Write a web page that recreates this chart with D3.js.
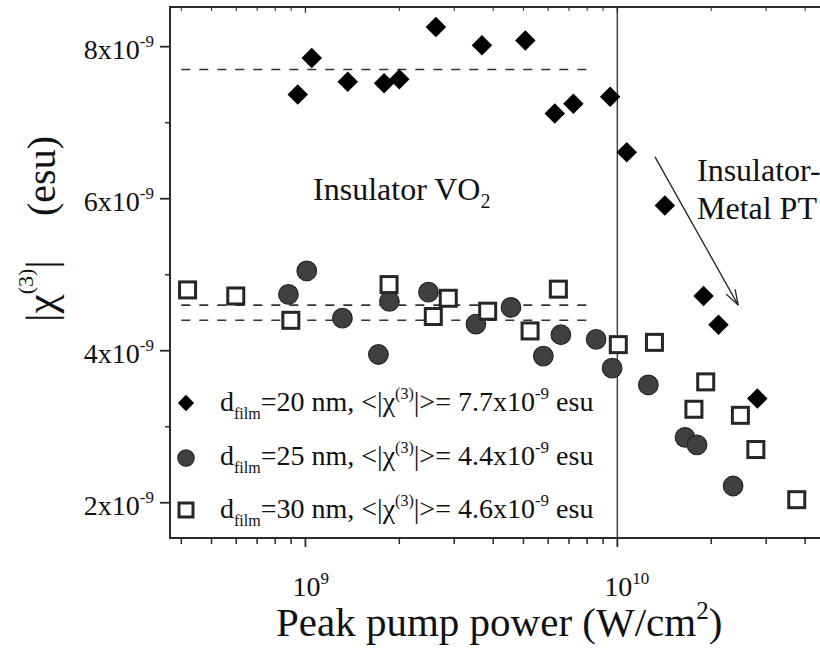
<!DOCTYPE html>
<html><head><meta charset="utf-8">
<script src="https://cdn.jsdelivr.net/npm/d3@7"></script>
<style>
body{margin:0;background:#fff}
text{font-family:"Liberation Serif","Times New Roman",serif;fill:#111}
</style>
</head><body><svg id="c" width="820" height="649"></svg>
<script>
// ---- data (x: peak pump power W/cm^2, y: |chi(3)| in 1e-9 esu) ----
const diamondX = [9.45e8, 1.048e9, 1.367e9, 1.787e9, 2.0e9, 2.62e9, 3.68e9, 5.07e9, 6.30e9, 7.23e9, 9.48e9, 1.072e10, 1.42e10, 1.89e10, 2.11e10, 2.81e10];
const diamondY = [7.37, 7.85, 7.54, 7.52, 7.57, 8.26, 8.02, 8.08, 7.12, 7.25, 7.34, 6.61, 5.91, 4.72, 4.34, 3.37];
const circleX = [8.82e8, 1.01e9, 1.314e9, 1.714e9, 1.859e9, 2.48e9, 3.52e9, 4.56e9, 5.79e9, 6.59e9, 8.55e9, 9.62e9, 1.257e10, 1.648e10, 1.80e10, 2.35e10];
const circleY = [4.74, 5.05, 4.43, 3.95, 4.65, 4.77, 4.35, 4.57, 3.93, 4.21, 4.15, 3.77, 3.55, 2.86, 2.76, 2.22];
const squareX = [4.19e8, 5.98e8, 8.98e8, 1.854e9, 2.57e9, 2.87e9, 3.84e9, 5.25e9, 6.47e9, 1.007e10, 1.315e10, 1.76e10, 1.92e10, 2.48e10, 2.78e10, 3.76e10];
const squareY = [4.80, 4.72, 4.40, 4.87, 4.45, 4.69, 4.52, 4.26, 4.81, 4.08, 4.11, 3.23, 3.59, 3.15, 2.70, 2.04];
const meanValues = [7.7, 4.4, 4.6];
const meanRange = [4.0e8, 8.2e9];
const transitionX = 1e10;
const seriesNames = ["=20 nm, <|χ", "=25 nm, <|χ", "=30 nm, <|χ"];
const seriesMeans = ["7.7", "4.4", "4.6"];
const xMajorTicks = [1e9, 1e10];
const xMajorExp = ["9", "10"];
const xMinorTicks = [4e8,5e8,6e8,7e8,8e8,9e8,2e9,3e9,4e9,5e9,6e9,7e9,8e9,9e9,2e10,3e10,4e10];
const yMajorTicks = [2, 4, 6, 8];
const yMajorLabels = ["2x10", "4x10", "6x10", "8x10"];
const yMinorTicks = [3, 5, 7];
const arrowFrom = [1.32e10, 6.55];
const arrowTo = [2.44e10, 4.60];

const svg = d3.select("#c");
const L = 170, T = 7, R = 822, B = 538;
const x = d3.scaleLog().domain([3.68e8, 4.53e10]).range([L, R]);
const y = d3.scaleLinear().domain([1.536, 8.522]).range([B, T]);
const ax = "#2a2a2a";

// mean dashed lines
svg.selectAll("line.mean").data(meanValues).join("line")
  .attr("x1", x(meanRange[0])).attr("x2", x(meanRange[1]))
  .attr("y1", d => y(d)).attr("y2", d => y(d))
  .attr("stroke", "#333").attr("stroke-width", 1.6).attr("stroke-dasharray", "9,9");

// transition line
svg.append("line").attr("x1", x(transitionX)).attr("x2", x(transitionX))
  .attr("y1", T).attr("y2", B).attr("stroke", "#444").attr("stroke-width", 1.5);

// axes frame
svg.append("line").attr("x1", L).attr("x2", L).attr("y1", T).attr("y2", B+1).attr("stroke", ax).attr("stroke-width", 2);
svg.append("line").attr("x1", L-1).attr("x2", R).attr("y1", B).attr("y2", B).attr("stroke", ax).attr("stroke-width", 2);
svg.append("line").attr("x1", L-1).attr("x2", R).attr("y1", T).attr("y2", T).attr("stroke", ax).attr("stroke-width", 2);

// x ticks
svg.selectAll("line.xmaj").data(xMajorTicks).join("line")
  .attr("x1", d => x(d)).attr("x2", d => x(d)).attr("y1", B).attr("y2", B+9).attr("stroke", ax).attr("stroke-width", 1.8);
svg.selectAll("line.xmin").data(xMinorTicks).join("line")
  .attr("x1", d => x(d)).attr("x2", d => x(d)).attr("y1", B).attr("y2", B+6).attr("stroke", ax).attr("stroke-width", 1.5);
svg.selectAll("line.xmajT").data(xMajorTicks).join("line")
  .attr("x1", d => x(d)).attr("x2", d => x(d)).attr("y1", T).attr("y2", T+6).attr("stroke", ax).attr("stroke-width", 1.2);
svg.selectAll("line.xminT").data(xMinorTicks).join("line")
  .attr("x1", d => x(d)).attr("x2", d => x(d)).attr("y1", T).attr("y2", T+4).attr("stroke", ax).attr("stroke-width", 1);

// y ticks
svg.selectAll("line.ymaj").data(yMajorTicks).join("line")
  .attr("x1", L-10).attr("x2", L).attr("y1", d => y(d)).attr("y2", d => y(d)).attr("stroke", ax).attr("stroke-width", 1.8);
svg.selectAll("line.ymin").data(yMinorTicks).join("line")
  .attr("x1", L-5).attr("x2", L).attr("y1", d => y(d)).attr("y2", d => y(d)).attr("stroke", ax).attr("stroke-width", 1.5);

// x tick labels
xMajorTicks.forEach((v, i) => {
  const t = svg.append("text").attr("x", x(v) - 13).attr("y", 596).attr("font-size", 28);
  t.append("tspan").text("10");
  t.append("tspan").attr("font-size", 17).attr("dy", -12).text(xMajorExp[i]);
});
// y tick labels
yMajorTicks.forEach((v, i) => {
  const t = svg.append("text").attr("x", 154).attr("y", y(v) + 12.5).attr("font-size", 28).attr("text-anchor", "end");
  t.append("tspan").text(yMajorLabels[i]);
  t.append("tspan").attr("font-size", 17).attr("dy", -12).text("-9");
});

// axis titles
const xt = svg.append("text").attr("x", 276).attr("y", 636).attr("font-size", 41);
xt.append("tspan").text("Peak pump power (W/cm");
xt.append("tspan").attr("font-size", 25).attr("dy", -17).text("2");
xt.append("tspan").attr("dy", 17).text(")");

const yg = svg.append("g").attr("transform", "translate(55,0) rotate(-90)");
yg.append("text").attr("x", -176).attr("y", 0).attr("font-size", 40).attr("text-anchor", "middle").text("(esu)");
const yt = yg.append("text").attr("x", -291).attr("y", 0).attr("font-size", 43).attr("text-anchor", "middle");
yt.append("tspan").text("|χ");
yt.append("tspan").attr("font-size", 22).attr("dy", -22).text("(3)");
yt.append("tspan").attr("dy", 22).text("|");

// markers
function drawDiamond(sel, s) {
  sel.attr("d", d3.symbol().type(d3.symbolSquare).size(s*s)()).attr("fill", "#000");
}
svg.selectAll("path.dia").data(diamondX).join("path")
  .attr("transform", (d, i) => `translate(${x(d)},${y(diamondY[i])}) rotate(45)`)
  .call(drawDiamond, 14.5);
svg.selectAll("circle.cir").data(circleX).join("circle")
  .attr("cx", d => x(d)).attr("cy", (d, i) => y(circleY[i])).attr("r", 9.8)
  .attr("fill", "#404040").attr("stroke", "#262626").attr("stroke-width", 1.2);
svg.selectAll("rect.sq").data(squareX).join("rect")
  .attr("x", d => x(d) - 8).attr("y", (d, i) => y(squareY[i]) - 8)
  .attr("width", 16).attr("height", 16)
  .attr("fill", "#fff").attr("stroke", "#262626").attr("stroke-width", 3);

// annotations
const ins = svg.append("text").attr("x", x(1.058e9)).attr("y", y(5.98)).attr("font-size", 32);
ins.append("tspan").text("Insulator VO");
ins.append("tspan").attr("font-size", 20).attr("dy", 8).text("2");
svg.append("text").attr("x", x(1.8e10)).attr("y", y(6.233)).attr("font-size", 32).text("Insulator-");
svg.append("text").attr("x", x(1.8e10)).attr("y", y(5.733)).attr("font-size", 32).text("Metal PT");

// arrow
const ax1 = x(arrowFrom[0]), ay1 = y(arrowFrom[1]), ax2 = x(arrowTo[0]), ay2 = y(arrowTo[1]);
svg.append("line").attr("x1", ax1).attr("y1", ay1).attr("x2", ax2).attr("y2", ay2).attr("stroke", "#222").attr("stroke-width", 1.3);
const ang = Math.atan2(ay2 - ay1, ax2 - ax1);
[0.32, -0.32].forEach(da => {
  svg.append("line").attr("x1", ax2).attr("y1", ay2)
    .attr("x2", ax2 - 16 * Math.cos(ang + da)).attr("y2", ay2 - 16 * Math.sin(ang + da))
    .attr("stroke", "#222").attr("stroke-width", 1.3);
});

// legend
const legY = [403, 458, 510];
const legBase = [411, 465, 518];
const lx = 186;
svg.append("path").attr("transform", `translate(${lx},${legY[0]}) rotate(45)`).call(drawDiamond, 11.5);
svg.append("circle").attr("cx", lx).attr("cy", legY[1]).attr("r", 8.2).attr("fill", "#404040").attr("stroke", "#262626").attr("stroke-width", 1.2);
svg.append("rect").attr("x", lx - 7).attr("y", legY[2] - 7).attr("width", 14).attr("height", 14).attr("fill", "#fff").attr("stroke", "#262626").attr("stroke-width", 3);
seriesNames.forEach((nm, i) => {
  const t = svg.append("text").attr("x", 220).attr("y", legBase[i]).attr("font-size", 28);
  t.append("tspan").text("d");
  t.append("tspan").attr("font-size", 16).attr("dy", 8).text("film");
  t.append("tspan").attr("dy", -8).text(nm);
  t.append("tspan").attr("font-size", 16).attr("dy", -12).text("(3)");
  t.append("tspan").attr("dy", 12).text("|>= " + seriesMeans[i] + "x10");
  t.append("tspan").attr("font-size", 17).attr("dy", -12).text("-9");
  t.append("tspan").attr("dy", 12).text(" esu");
});
</script>
</body></html>
